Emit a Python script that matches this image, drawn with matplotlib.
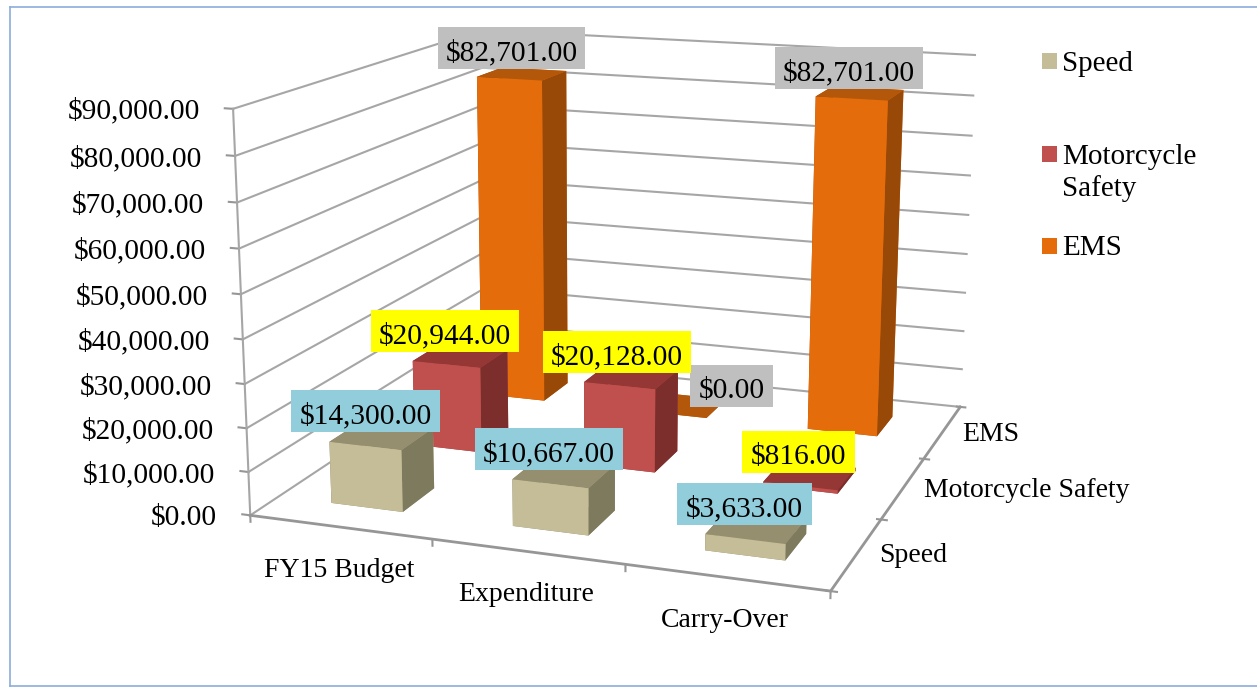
import numpy as np
import matplotlib
matplotlib.use('Agg')
import matplotlib.pyplot as plt
from matplotlib.lines import Line2D
from matplotlib.patches import Rectangle
from mpl_toolkits.mplot3d import proj3d

categories = ['FY15 Budget', 'Expenditure', 'Carry-Over']
series_names = ['Speed', 'Motorcycle Safety', 'EMS']
speed = [14300, 10667, 3633]
motorcycle = [20944, 20128, 816]
ems = [82701, 0, 82701]
value_ticks = [0, 10000, 20000, 30000, 40000, 50000, 60000, 70000, 80000, 90000]

W, H = 1257, 691
plt.rcParams['font.family'] = ['Liberation Serif', 'DejaVu Serif']
fig = plt.figure(figsize=(W / 100, H / 100), dpi=100, facecolor='white')

def fx(px): return px / W
def fy(py): return 1 - py / H

# 3D axes placement and camera
Lx, Ly, cx, cy = 870.6, 847.8, 620.7, 407.0
ax = fig.add_axes([(cx - Lx / 2) / W, (cy - Ly / 2) / H, Lx / W, Ly / H], projection='3d')
ax.apply_aspect = lambda position=None: None
ax.set_axis_off()
ax.patch.set_visible(False)
ax.computed_zorder = False
ax.set_autoscale_on(False)
ax.view_init(elev=14.147, azim=-70.753, roll=-0.182)
ax.set_proj_type('persp', focal_length=0.4750)
ax.set_box_aspect((1.4130, 1.4308, 1.0))
ax.set_xlim(0, 3, view_margin=0)
ax.set_ylim(0, 3, view_margin=0)
ax.set_zlim(0, 90000, view_margin=0)

def to_pixel(x, y, z):
    """Figure pixel (origin top-left) of a point given in data coordinates."""
    px, py, _ = proj3d.proj_transform(np.array([x], float), np.array([y], float), np.array([z], float), ax.get_proj())
    d = ax.transData.transform(np.c_[px, py])[0]
    return d[0], H - d[1]

GRID = '#A6A6A6'
EDGE = '#969696'
for v in value_ticks:
    ax.plot([0, 0, 3], [0, 3, 3], [v, v, v], color=GRID, lw=1.5, zorder=1, solid_joinstyle='miter')
    ax.plot([-0.045, 0], [0, 0], [v, v], color=EDGE, lw=1.5, zorder=1)
    tx, ty = to_pixel(0, 0, v)
    fig.text(fx(tx - 33), fy(ty + 10), f'${v:,.2f}', ha='right', va='baseline', fontsize=21.2, color='black')
ax.plot([0, 0], [0, 0], [0, 90000], color=GRID, lw=1.5, zorder=1)
ax.plot([0, 3, 3], [0, 0, 3], [0, 0, 0], color=EDGE, lw=2, zorder=1, solid_joinstyle='miter')
for c in range(4):
    ax.plot([c, c], [0, 0], [0, -1500], color=EDGE, lw=1.5, zorder=1)
for s in range(4):
    ax.plot([2.98, 3.03], [s, s], [0, 0], color=EDGE, lw=1.5, zorder=1)

# Bars; faces are bottom, top, front, back, left, right
BAR_W, BAR_D, BAR_GAP = 0.40, 0.38, 0.30
series_x_nudge = [0.0, 0.0, -0.03]
palette = [
    dict(front='#C4BD97', top='#958E6F', side='#7E7A5E'),
    dict(front='#C0504D', top='#953735', side='#7C2E2D'),
    dict(front='#E46C0A', top='#B3570A', side='#984807'),
]
all_vals = [speed, motorcycle, ems]
for s, vals in enumerate(all_vals):
    pal = palette[s]
    faces = [pal['top'], pal['top'], pal['front'], pal['front'], pal['side'], pal['side']]
    for c, v in enumerate(vals):
        ax.bar3d(c + BAR_GAP + series_x_nudge[s], s + BAR_GAP, 0, BAR_W, BAR_D, v, color=faces, shade=False,
                 zorder=10 - s * 3 + c * 0.1)

# Chart frame
FRAME = '#8CADDC'
fig.add_artist(Line2D([fx(10), fx(10)], [fy(7), fy(686)], color=FRAME, lw=1.2))
fig.add_artist(Line2D([fx(10), 1], [fy(7), fy(7)], color=FRAME, lw=1.2))
fig.add_artist(Line2D([fx(10), 1], [fy(686), fy(686)], color=FRAME, lw=1.2))

# Axis category labels (left edge, baseline)
cat_pos = [(264, 577), (458, 601), (661, 627)]
for name, (x, y) in zip(categories, cat_pos):
    fig.text(fx(x), fy(y), name, ha='left', va='baseline', fontsize=20)
ser_pos = [(879, 562), (924, 497), (962, 441)]
for name, (x, y) in zip(series_names, ser_pos):
    fig.text(fx(x), fy(y), name, ha='left', va='baseline', fontsize=20)

# Data labels: series, category, box left, right, top, bottom, colour
GRAY, YEL, BLUE = '#BFBFBF', '#FFFF00', '#92CDDC'
label_boxes = [
    (2, 0, 438, 585, 27, 69, GRAY), (2, 1, 690, 773, 365, 407, GRAY), (2, 2, 775, 923, 47, 89, GRAY),
    (1, 0, 371, 519, 310, 352, YEL), (1, 1, 543, 691, 331, 373, YEL), (1, 2, 742, 855, 431, 473, YEL),
    (0, 0, 291, 440, 390, 432, BLUE), (0, 1, 475, 623, 428, 470, BLUE), (0, 2, 677, 812, 483, 525, BLUE),
]
for s, c, x0, x1, y0, y1, col in label_boxes:
    fig.add_artist(Rectangle((fx(x0), fy(y1)), (x1 - x0) / W, (y1 - y0) / H,
                             transform=fig.transFigure, fc=col, ec='none', zorder=2))
    fig.text(fx((x0 + x1) / 2), fy((y0 + y1) / 2 + 12), f'${all_vals[s][c]:,.2f}',
             ha='center', va='baseline', fontsize=21.2, zorder=3)

# Legend: swatch top, text baseline of the last line
leg_swatch_top = [53, 146, 238]
leg_base = [71, 196, 255]
leg_cols = ['#C4BD97', '#C0504D', '#E46C0A']
leg_txt = ['Speed', 'Motorcycle\nSafety', 'EMS']
for top, base, col, t in zip(leg_swatch_top, leg_base, leg_cols, leg_txt):
    fig.add_artist(Rectangle((fx(1042), fy(top + 16)), 15 / W, 16 / H, transform=fig.transFigure, fc=col, ec='none'))
    fig.text(fx(1062), fy(base), t, ha='left', va='baseline', fontsize=21, linespacing=1.26)

fig.savefig('out.png', dpi=100)
